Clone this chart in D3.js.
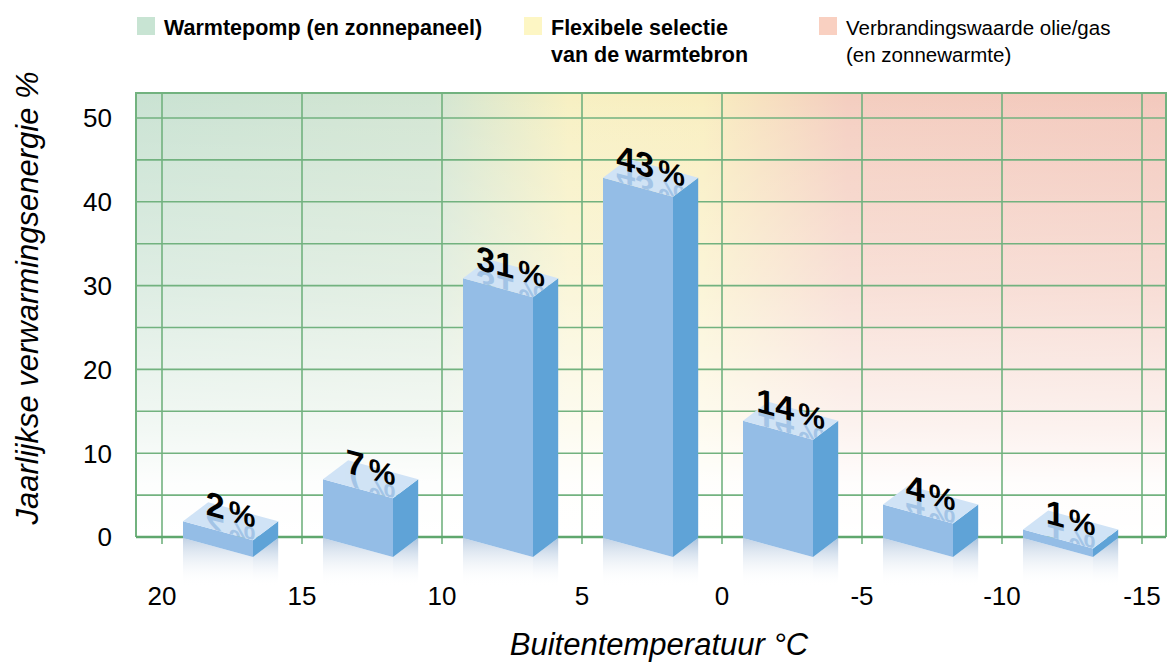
<!DOCTYPE html>
<html lang="nl">
  <head>
    <meta charset="UTF-8" />
    <meta name="viewport" content="width=device-width, initial-scale=1.0" />
    <title>Jaarlijkse verwarmingsenergie</title>
    <script src="https://d3js.org/d3.v7.min.js"></script>
    <style>
      body { margin: 0; background: #fff; }
      text { font-family: 'Liberation Sans', Arial, sans-serif; }
    </style>
  </head>
  <body>
    <div id="chart"></div>
    <script>
      // data
      const temperatureTicks = [20, 15, 10, 5, 0, -5, -10, -15];
      const shareTicks = [0, 10, 20, 30, 40, 50];
      const binStarts = [20, 15, 10, 5, 0, -5, -10];
      const shares = [2, 7, 31, 43, 14, 4, 1];
      const legendLines = [
        ['Warmtepomp (en zonnepaneel)'],
        ['Flexibele selectie', 'van de warmtebron'],
        ['Verbrandingswaarde olie/gas', '(en zonnewarmte)']
      ];
      const legendColors = ['#c8e4d3', '#fdf6c4', '#f9d0c1'];

      const width = 1167;
      const height = 664;
      const plot = { left: 136, right: 1166, top: 93, bottom: 537 };

      const svg = d3.select('#chart')
        .append('svg')
          .attr('width', width)
          .attr('height', height);

      const defs = svg.append('defs');

      const x = d3.scaleLinear().domain([20, -15]).range([162, 1142]);
      const y = d3.scaleLinear().domain([0, 50]).range([537, 118]);

      // background: green -> yellow -> red, fading to white at the bottom
      const bgH = defs.append('linearGradient')
        .attr('id', 'bg-h')
        .attr('gradientUnits', 'userSpaceOnUse')
        .attr('x1', plot.left).attr('x2', plot.right)
        .attr('y1', 0).attr('y2', 0);
      [[0, '#c9e2d2'], [0.29, '#d2e5d2'], [0.42, '#f7f0c2'], [0.55, '#f9eebf'],
       [0.69, '#f4cdbf'], [1, '#f3c8bc']].forEach(([o, c]) => {
        bgH.append('stop').attr('offset', o).attr('stop-color', c);
      });

      const bgV = defs.append('linearGradient')
        .attr('id', 'bg-v')
        .attr('gradientUnits', 'userSpaceOnUse')
        .attr('x1', 0).attr('x2', 0)
        .attr('y1', plot.top).attr('y2', plot.bottom);
      [[0, 0], [0.06, 0.08], [0.45, 0.4], [0.75, 0.75], [0.88, 0.96], [1, 1]].forEach(([o, a]) => {
        bgV.append('stop').attr('offset', o).attr('stop-color', '#fff').attr('stop-opacity', a);
      });

      svg.append('rect')
        .attr('x', plot.left).attr('y', plot.top)
        .attr('width', plot.right - plot.left).attr('height', plot.bottom - plot.top)
        .style('fill', 'url(#bg-h)');
      svg.append('rect')
        .attr('x', plot.left).attr('y', plot.top)
        .attr('width', plot.right - plot.left).attr('height', plot.bottom - plot.top)
        .style('fill', 'url(#bg-v)');

      // grid
      const gridColor = '#72b27f';
      svg.append('g')
        .selectAll('line')
        .data(d3.range(5, 55, 5))
        .join('line')
          .attr('x1', plot.left).attr('x2', plot.right)
          .attr('y1', d => y(d)).attr('y2', d => y(d))
          .attr('stroke', gridColor)
          .attr('stroke-width', 1.6);

      svg.append('g')
        .selectAll('line')
        .data(temperatureTicks)
        .join('line')
          .attr('x1', d => x(d)).attr('x2', d => x(d))
          .attr('y1', plot.top).attr('y2', plot.bottom + 7)
          .attr('stroke', gridColor)
          .attr('stroke-width', 1.6);

      svg.append('path')
        .attr('d', `M${plot.left},${plot.bottom}V${plot.top}H${plot.right}V${plot.bottom}`)
        .attr('fill', 'none')
        .attr('stroke', gridColor)
        .attr('stroke-width', 2);
      svg.append('line')
        .attr('x1', plot.left).attr('x2', plot.right)
        .attr('y1', y(0)).attr('y2', y(0))
        .attr('stroke', '#5fa76e')
        .attr('stroke-width', 2.5);

      // axes labels
      svg.append('g')
        .selectAll('text')
        .data(shareTicks)
        .join('text')
          .attr('x', 112)
          .attr('y', d => y(d))
          .attr('dy', '0.36em')
          .attr('text-anchor', 'end')
          .style('font-size', '26px')
          .text(d => d);

      svg.append('g')
        .selectAll('text')
        .data(temperatureTicks)
        .join('text')
          .attr('x', d => x(d))
          .attr('y', 605)
          .attr('text-anchor', 'middle')
          .style('font-size', '26px')
          .text(d => d);

      svg.append('text')
        .attr('x', 659)
        .attr('y', 655)
        .attr('text-anchor', 'middle')
        .style('font-size', '31px')
        .style('font-style', 'italic')
        .text('Buitentemperatuur °C');

      svg.append('text')
        .attr('transform', 'translate(38, 298) rotate(-90)')
        .attr('text-anchor', 'middle')
        .style('font-size', '31px')
        .style('font-style', 'italic')
        .text('Jaarlijkse verwarmingsenergie %');

      // legend
      const legend = svg.append('g')
        .selectAll('g')
        .data(legendLines)
        .join('g')
          .attr('transform', (d, i) => `translate(${[137, 524, 819][i]}, 17)`);
      legend.append('rect')
        .attr('width', 18).attr('height', 18)
        .attr('fill', (d, i) => legendColors[i]);
      legend.append('text')
        .style('font-size', (d, i) => i === 2 ? '20.5px' : '21.5px')
        .style('font-weight', (d, i) => i === 2 ? 'normal' : 'bold')
        .selectAll('tspan')
        .data(d => d)
        .join('tspan')
          .attr('x', 0)
          .attr('dx', 27)
          .attr('y', (d, i) => 18 + i * 27)
          .text(d => d);

      // 3d bars
      const bars = binStarts.map((t, i) => ({ t, v: shares[i], i }));
      const slope = 19;
      const base = y(0) + 1;
      const geom = d => {
        const step = x(d.t - 5) - x(d.t);
        const x0 = x(d.t) + step * 0.15;
        const w = step * 0.5;
        const dep = step * 0.18;
        const h = y(0) - y(d.v);
        return { x0, w, dep, h };
      };
      const pts = arr => arr.map(p => p.join(',')).join(' ');

      const refl = defs.append('linearGradient')
        .attr('id', 'refl')
        .attr('gradientUnits', 'userSpaceOnUse')
        .attr('x1', 0).attr('x2', 0)
        .attr('y1', base).attr('y2', base + 48);
      refl.append('stop').attr('offset', 0).attr('stop-color', '#c2d2e5').attr('stop-opacity', 1);
      refl.append('stop').attr('offset', 1).attr('stop-color', '#fff').attr('stop-opacity', 0);

      const reflSide = defs.append('linearGradient')
        .attr('id', 'refl-side')
        .attr('gradientUnits', 'userSpaceOnUse')
        .attr('x1', 0).attr('x2', 0)
        .attr('y1', base).attr('y2', base + 48);
      reflSide.append('stop').attr('offset', 0).attr('stop-color', '#a9c1dc').attr('stop-opacity', 1);
      reflSide.append('stop').attr('offset', 1).attr('stop-color', '#fff').attr('stop-opacity', 0);

      defs.selectAll('clipPath')
        .data(bars)
        .join('clipPath')
          .attr('id', d => `top-${d.i}`)
        .append('polygon')
          .attr('points', d => {
            const g = geom(d);
            const top = base - g.h;
            return pts([[g.x0, top], [g.x0 + g.w, top + slope], [g.x0 + g.w + g.dep, top], [g.x0 + g.dep, top - slope]]);
          });

      const bar = svg.append('g')
        .selectAll('g')
        .data(bars)
        .join('g');

      bar.append('polygon')
        .attr('points', d => {
          const g = geom(d);
          return pts([[g.x0, base], [g.x0 + g.w, base + slope], [g.x0 + g.w, base + 48], [g.x0, base + 48]]);
        })
        .attr('fill', 'url(#refl)');
      bar.append('polygon')
        .attr('points', d => {
          const g = geom(d);
          return pts([[g.x0 + g.w, base + slope], [g.x0 + g.w + g.dep, base], [g.x0 + g.w + g.dep, base + 48], [g.x0 + g.w, base + 48]]);
        })
        .attr('fill', 'url(#refl-side)');

      // front
      bar.append('polygon')
        .attr('points', d => {
          const g = geom(d);
          return pts([[g.x0, base], [g.x0 + g.w, base + slope], [g.x0 + g.w, base + slope - g.h], [g.x0, base - g.h]]);
        })
        .attr('fill', '#94bde6');
      // side
      bar.append('polygon')
        .attr('points', d => {
          const g = geom(d);
          return pts([[g.x0 + g.w, base + slope], [g.x0 + g.w + g.dep, base], [g.x0 + g.w + g.dep, base - g.h], [g.x0 + g.w, base + slope - g.h]]);
        })
        .attr('fill', '#5fa3d7');
      // top
      bar.append('polygon')
        .attr('points', d => {
          const g = geom(d);
          const top = base - g.h;
          return pts([[g.x0, top], [g.x0 + g.w, top + slope], [g.x0 + g.w + g.dep, top], [g.x0 + g.dep, top - slope]]);
        })
        .attr('fill', '#d0e3f6');

      const skew = Math.atan2(slope, 70) * 180 / Math.PI;
      const labelPos = d => {
        const g = geom(d);
        return [g.x0 + (g.w + g.dep) / 2, base - g.h];
      };
      const addLabel = (sel, mirrored) => {
        const t = sel.append('text')
          .attr('transform', d => {
            const [cx, cy] = labelPos(d);
            return `translate(${cx},${cy}) skewY(${skew})` + (mirrored ? ' scale(1,-1)' : '');
          })
          .attr('text-anchor', 'middle')
          .style('font-weight', 'bold');
        t.append('tspan').style('font-size', '34px').text(d => d.v);
        t.append('tspan').attr('dx', 4).style('font-size', '30px').text('%');
        return t;
      };

      addLabel(bar.append('g').attr('clip-path', d => `url(#top-${d.i})`), true)
        .attr('fill', '#86b0dd')
        .attr('opacity', 0.6);
      addLabel(bar, false).attr('fill', '#000');
    </script>
  </body>
</html>
